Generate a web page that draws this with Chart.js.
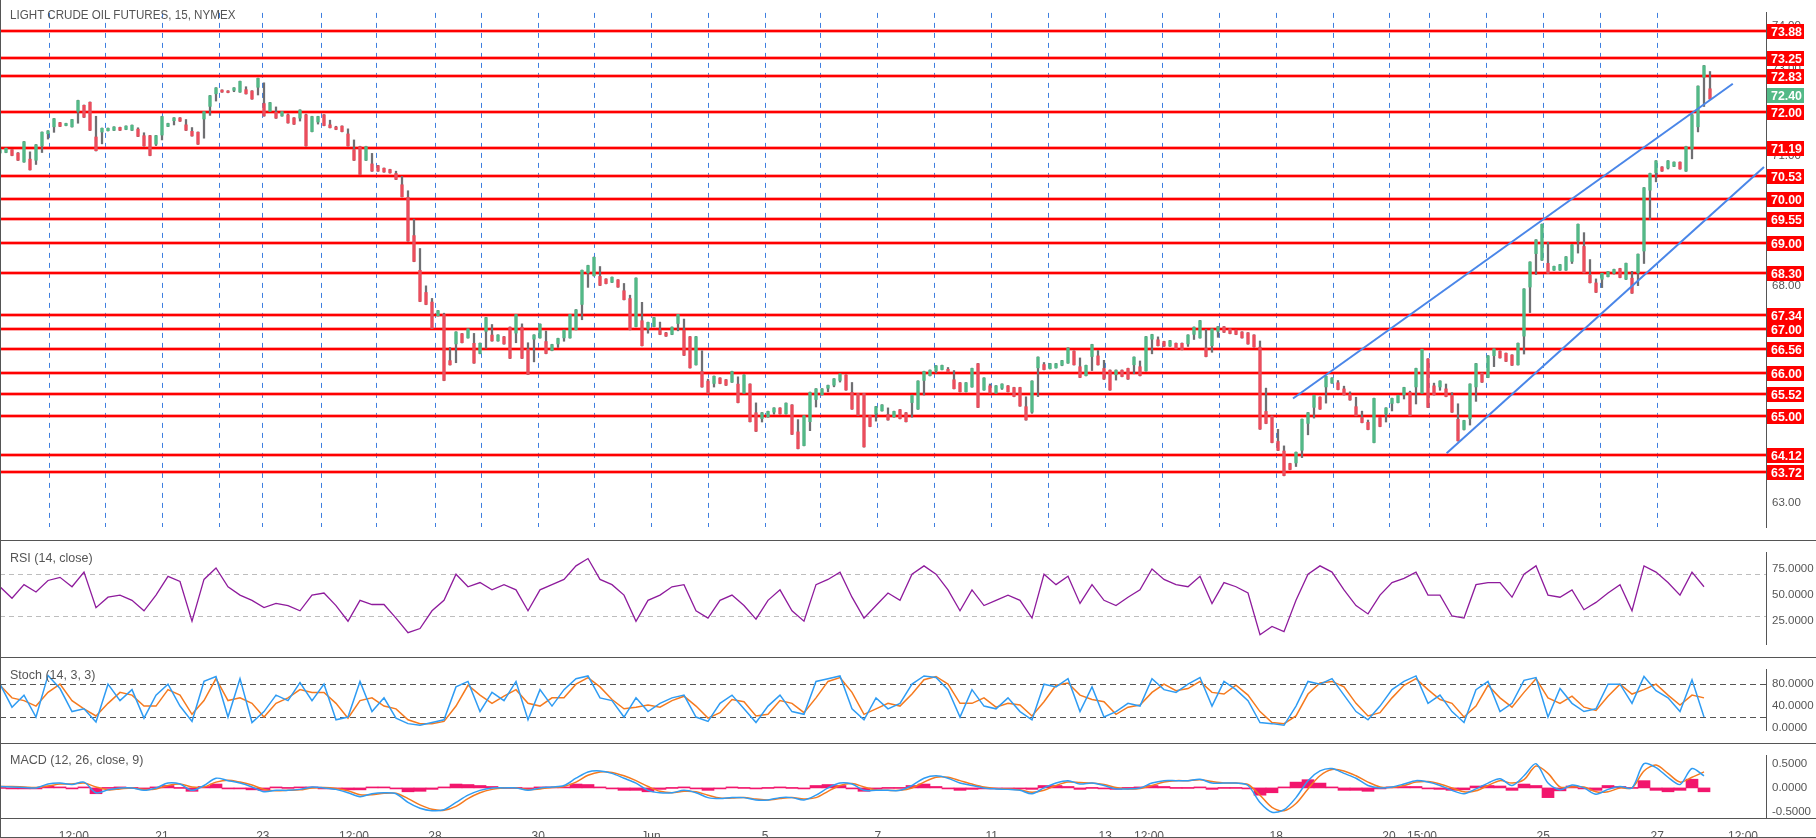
<!DOCTYPE html>
<html lang="en">
<head>
<meta charset="UTF-8">
<title>Light Crude Oil Futures, 15, NYMEX</title>
<script src="https://cdn.jsdelivr.net/npm/chart.js@4.4.1/dist/chart.umd.min.js"></script>
<style>
  body { margin: 0; background: #fff; }
  #wrap { position: relative; width: 1816px; height: 838px; overflow: hidden; font-family: "Liberation Sans", Arial, sans-serif; }
  #wrap canvas { position: absolute; left: 0; }
  .lbl { position: absolute; left: 10px; font-size: 12.5px; line-height: 13px; color: #555; white-space: nowrap; transform-origin: left top; }
  .hline { position: absolute; left: 0; width: 1816px; height: 1px; background: #555; }
  .vline { position: absolute; top: 0; width: 1px; height: 838px; background: #555; }
</style>
</head>
<body>
<div id="wrap">
  <canvas id="price" width="1816" height="540" style="top:0"></canvas>
  <canvas id="rsi" width="1816" height="117" style="top:540px"></canvas>
  <canvas id="stoch" width="1816" height="86" style="top:657px"></canvas>
  <canvas id="macd" width="1816" height="95" style="top:743px"></canvas>
  <div class="hline" style="top:540px"></div>
  <div class="hline" style="top:657px"></div>
  <div class="hline" style="top:743px"></div>
  <div class="hline" style="top:818px"></div>
  <div class="hline" style="top:837px"></div>
  <div class="vline" style="left:0"></div>
  <div class="lbl" style="top:9px; transform:scaleX(0.93)">LIGHT CRUDE OIL FUTURES, 15, NYMEX</div>
  <div class="lbl" style="top:552px">RSI (14, close)</div>
  <div class="lbl" style="top:669px">Stoch (14, 3, 3)</div>
  <div class="lbl" style="top:754px">MACD (12, 26, close, 9)</div>
</div>

<script>
// ---- price data: one slot per 6 px of the original chart (high / low of each slot) ----
const priceHigh = [
  71.15, 71.18, 71.15, 71.07, 71.33, 70.93, 71.26, 71.55, 71.58, 71.86,
  71.77, 71.75, 71.84, 72.28, 72.17, 72.24, 71.44, 71.64, 71.64, 71.67,
  71.66, 71.69, 71.71, 71.62, 71.47, 71.47, 71.47, 71.91, 71.75, 71.88,
  71.88, 71.72, 71.57, 71.55, 72.02, 72.39, 72.57, 72.52, 72.50, 72.57,
  72.72, 72.53, 72.50, 72.79, 72.21, 72.23, 72.01, 72.02, 71.95, 71.88,
  72.06, 71.95, 71.91, 71.91, 71.95, 71.72, 71.67, 71.69, 71.51, 71.15,
  71.22, 71.22, 70.82, 70.78, 70.72, 70.69, 70.60, 70.34, 70.05, 69.17,
  68.37, 67.86, 67.64, 67.44, 67.35, 66.29, 66.95, 66.91, 67.02, 66.69,
  66.69, 67.28, 66.88, 66.88, 66.84, 67.06, 67.35, 67.06, 66.55, 66.88,
  67.13, 66.73, 66.66, 66.80, 66.99, 67.35, 67.46, 68.37, 68.48, 68.67,
  68.23, 68.17, 68.21, 68.15, 67.90, 67.72, 68.19, 67.21, 67.17, 67.28,
  66.99, 66.93, 67.06, 67.35, 66.99, 66.84, 66.84, 66.04, 65.82, 65.93,
  65.89, 65.85, 66.04, 65.75, 65.96, 65.75, 65.09, 65.09, 65.12, 65.20,
  65.20, 65.31, 65.27, 64.65, 65.02, 65.56, 65.64, 65.64, 65.72, 65.87,
  65.98, 65.96, 65.56, 65.53, 65.53, 65.02, 65.23, 65.27, 65.05, 65.12,
  65.16, 65.09, 65.49, 65.82, 66.04, 66.07, 66.17, 66.18, 66.09, 65.85,
  65.78, 65.78, 66.11, 66.22, 65.89, 65.71, 65.71, 65.75, 65.71, 65.67,
  65.67, 65.23, 65.82, 66.37, 66.20, 66.22, 66.22, 66.29, 66.58, 66.51,
  66.15, 66.18, 66.66, 66.40, 66.11, 66.07, 66.07, 66.07, 66.11, 66.37,
  66.15, 66.84, 66.89, 66.77, 66.73, 66.75, 66.69, 66.69, 66.88, 67.06,
  67.21, 66.58, 67.02, 67.07, 67.07, 67.02, 66.99, 66.95, 66.93, 66.88,
  66.60, 65.12, 65.01, 64.43, 64.21, 63.92, 64.18, 64.94, 65.09, 65.49,
  65.45, 65.93, 65.89, 65.78, 65.64, 65.51, 65.23, 64.98, 64.87, 65.42,
  64.98, 65.20, 65.42, 65.49, 65.67, 65.56, 66.11, 66.55, 66.33, 65.71,
  65.82, 65.64, 65.49, 64.94, 64.91, 65.75, 66.22, 66.00, 66.40, 66.56,
  66.51, 66.46, 66.42, 66.69, 67.94, 68.56, 69.07, 69.43, 68.53, 68.46,
  68.50, 68.68, 68.96, 69.43, 68.92, 68.26, 68.08, 68.30, 68.34, 68.39,
  68.41, 68.53, 68.19, 68.74, 70.27, 70.60, 70.89, 70.75, 70.89, 70.86,
  70.86, 71.22, 71.95, 72.61, 73.08, 72.55
];
const priceLow = [
  71.06, 71.07, 71.00, 70.89, 70.85, 70.67, 70.89, 71.22, 71.50, 71.66,
  71.67, 71.69, 71.66, 72.02, 71.88, 71.58, 71.11, 71.54, 71.57, 71.58,
  71.58, 71.60, 71.58, 71.44, 71.22, 71.00, 71.26, 71.47, 71.67, 71.80,
  71.79, 71.58, 71.45, 71.26, 71.84, 72.13, 72.42, 72.46, 72.45, 72.50,
  72.46, 72.42, 72.30, 72.57, 71.91, 72.02, 71.86, 71.91, 71.75, 71.72,
  71.86, 71.22, 71.55, 71.77, 71.69, 71.64, 71.60, 71.55, 71.22, 70.89,
  70.56, 70.89, 70.64, 70.64, 70.62, 70.60, 70.45, 70.05, 69.03, 68.56,
  67.64, 67.57, 67.02, 67.31, 65.82, 66.18, 66.66, 66.69, 66.80, 66.22,
  66.44, 66.95, 66.73, 66.73, 66.66, 66.33, 66.91, 66.33, 65.96, 66.77,
  66.80, 66.44, 66.51, 66.66, 66.80, 66.80, 66.99, 67.57, 68.30, 68.23,
  68.01, 68.05, 68.08, 67.97, 67.68, 66.99, 67.06, 66.62, 67.02, 67.06,
  66.88, 66.84, 66.88, 67.13, 66.40, 66.11, 66.18, 65.67, 65.53, 65.75,
  65.75, 65.71, 65.78, 65.31, 65.53, 64.87, 64.65, 64.94, 64.98, 65.09,
  65.05, 65.05, 64.58, 64.25, 64.32, 64.87, 65.38, 65.49, 65.64, 65.71,
  65.82, 65.60, 65.16, 65.02, 64.29, 64.76, 65.05, 65.12, 64.91, 64.98,
  64.94, 64.87, 65.31, 65.16, 65.82, 65.93, 66.04, 66.07, 66.02, 65.63,
  65.56, 65.56, 65.67, 65.20, 65.60, 65.53, 65.53, 65.64, 65.56, 65.45,
  65.23, 64.91, 65.09, 66.11, 66.07, 66.09, 66.11, 66.17, 66.22, 66.18,
  65.89, 65.93, 66.37, 66.18, 65.85, 65.60, 65.95, 65.91, 65.85, 66.18,
  65.93, 66.04, 66.77, 66.62, 66.61, 66.61, 66.55, 66.53, 66.66, 66.88,
  66.80, 66.37, 66.62, 66.95, 66.93, 66.90, 66.88, 66.80, 66.66, 66.59,
  64.70, 64.83, 64.39, 64.21, 63.63, 63.77, 63.92, 64.21, 64.83, 65.20,
  65.16, 65.67, 65.76, 65.61, 65.49, 65.37, 65.01, 64.85, 64.69, 64.39,
  64.76, 65.05, 65.29, 65.31, 65.49, 65.01, 65.67, 65.53, 65.20, 65.49,
  65.67, 65.45, 65.09, 64.43, 64.69, 64.94, 65.67, 65.78, 65.89, 66.39,
  66.34, 66.26, 66.17, 66.18, 66.84, 67.97, 68.74, 68.59, 68.29, 68.36,
  68.36, 68.36, 68.56, 69.03, 68.30, 68.07, 67.85, 68.15, 68.21, 68.29,
  68.19, 68.15, 67.83, 68.30, 68.80, 70.20, 70.60, 70.64, 70.71, 70.75,
  70.69, 70.64, 71.15, 71.66, 72.80, 72.30
];
const lastPrice = 72.40;

// ---- indicator data: one value every 2 slots (12 px) ----
const rsi = [
  58, 47, 60, 53, 64, 67, 58, 72, 38, 48, 50, 45, 35, 50, 68, 63, 25, 65, 76, 58,
  50, 45, 38, 42, 40, 35, 50, 52, 40, 25, 45, 41, 41, 28, 14, 18, 35, 45, 70, 58,
  62, 55, 60, 55, 35, 55, 60, 65, 78, 85, 65, 60, 50, 25, 45, 50, 58, 60, 35, 28,
  45, 50, 40, 27, 45, 55, 35, 25, 60, 65, 72, 48, 28, 40, 52, 45, 70, 78, 70, 55,
  35, 55, 40, 45, 50, 45, 28, 70, 60, 68, 42, 60, 45, 40, 48, 55, 75, 65, 60, 58,
  68, 42, 62, 58, 52, 12, 20, 15, 45, 70, 78, 72, 55, 40, 32, 50, 62, 66, 72, 50,
  50, 30, 28, 60, 62, 62, 48, 70, 78, 50, 48, 55, 36, 43, 52, 60, 35, 78, 72, 62,
  50, 72, 58
];
const stochK = [
  80, 38, 60, 20, 96, 72, 30, 35, 11, 80, 50, 70, 18, 60, 80, 40, 12, 85, 94, 20,
  90, 10, 30, 60, 50, 83, 50, 80, 15, 20, 85, 30, 55, 18,
  8, 5, 10, 15, 75, 85, 30, 65, 50, 85, 15, 70, 40, 70, 90, 95, 55, 50, 20, 55,
  30, 45, 55, 60, 20, 12, 45, 60, 35, 10, 40, 60, 30, 25, 85, 90, 95, 35, 15, 55,
  35, 45, 80, 95, 92, 70, 20, 70, 40, 35, 55, 30, 15, 80, 75, 90, 30, 75, 20, 30,
  45, 40, 90, 70, 65, 80, 92, 40, 85, 70, 50, 10, 8, 5, 40, 85, 80, 90, 60, 30,
  15, 40, 70, 85, 95, 45, 60, 30, 10, 70, 85,
  30, 45, 87, 92, 20, 72, 45, 30, 35, 80, 80, 45, 94, 68, 55, 30, 88, 20
];
const stochD = [
  78, 55, 50, 40, 65, 80, 50, 35, 22, 45, 65, 60, 40, 40, 70, 60, 25, 50, 90, 50,
  55, 45, 20, 45, 55, 70, 65, 65, 45, 18, 50, 55, 40, 35,
  15, 8, 8, 12, 40, 78, 60, 45, 58, 70, 45, 40, 55, 55, 80, 92, 75, 52, 35, 38,
  42, 38, 50, 58, 40, 18, 28, 52, 48, 22, 25, 50, 45, 28, 55, 85, 92, 65, 25, 35,
  45, 40, 62, 88, 94, 80, 45, 45, 55, 38, 45, 42, 22, 48, 78, 82, 60, 52, 48, 25,
  38, 42, 65, 80, 68, 72, 85, 65, 62, 78, 60, 30, 10, 8, 22, 62, 82, 85, 75, 45,
  22, 28, 55, 78, 90, 70, 52, 45, 20, 40, 78,
  55, 38, 65, 90, 55, 45, 58, 38, 32, 58, 80, 62, 70, 80, 60, 42, 60, 55
];
const macdLine = [
  0.03, 0.02, 0.01, 0.00, 0.08, 0.10, 0.07, 0.12, -0.10, -0.04, 0.00, 0.00, -0.05, 0.00, 0.10,
  0.08, -0.05, 0.05, 0.20, 0.15, 0.10, 0.02, -0.08, -0.05, -0.05, -0.03, 0.02, 0.00, -0.03, -0.10,
  -0.18, -0.12, -0.10, -0.12, -0.30, -0.42, -0.47, -0.45, -0.30, -0.15, -0.05, 0.00, 0.00, 0.00, -0.05,
  0.00, 0.02, 0.05, 0.20, 0.33, 0.35, 0.30, 0.20, 0.10, -0.05, -0.10, -0.10, -0.05, -0.10, -0.20,
  -0.22, -0.20, -0.20, -0.25, -0.25, -0.20, -0.20, -0.25, -0.15, 0.00, 0.10, 0.08, -0.05, -0.05, -0.05,
  -0.05, 0.05, 0.20, 0.25, 0.20, 0.10, 0.05, 0.00, -0.02, -0.03, -0.05, -0.12, 0.00, 0.10, 0.15,
  0.08, 0.10, 0.05, -0.02, -0.02, 0.00, 0.10, 0.15, 0.15, 0.15, 0.18, 0.10, 0.10, 0.10, 0.05,
  -0.30, -0.50, -0.45, -0.20, 0.15, 0.35, 0.40, 0.30, 0.20, 0.05, 0.00, 0.02, 0.08, 0.15, 0.12,
  0.05, -0.05, -0.12, -0.02, 0.10, 0.19, 0.05, 0.25, 0.50, 0.10, -0.04, 0.06, 0.00, -0.13, -0.03,
  0.03, 0.00, 0.50, 0.42, 0.22, 0.07, 0.40, 0.25
];
const macdSignal = [
  0.03, 0.03, 0.02, 0.01, 0.04, 0.08, 0.08, 0.10, 0.02, -0.04, -0.02, 0.00, -0.03, -0.02, 0.05,
  0.08, 0.02, 0.02, 0.12, 0.16, 0.12, 0.06, -0.03, -0.06, -0.05, -0.04, 0.00, 0.01, -0.01, -0.06,
  -0.14, -0.14, -0.11, -0.11, -0.22, -0.35, -0.44, -0.46, -0.38, -0.22, -0.10, -0.03, 0.00, 0.00, -0.03,
  -0.02, 0.01, 0.03, 0.12, 0.26, 0.33, 0.32, 0.25, 0.15, 0.03, -0.07, -0.10, -0.07, -0.08, -0.15,
  -0.21, -0.21, -0.20, -0.23, -0.25, -0.22, -0.20, -0.23, -0.20, -0.07, 0.05, 0.09, 0.02, -0.04, -0.05,
  -0.05, 0.00, 0.12, 0.22, 0.22, 0.15, 0.08, 0.02, -0.01, -0.02, -0.04, -0.09, -0.05, 0.05, 0.12,
  0.11, 0.10, 0.07, 0.01, -0.02, -0.01, 0.05, 0.12, 0.15, 0.15, 0.17, 0.13, 0.10, 0.10, 0.07,
  -0.15, -0.40, -0.47, -0.32, -0.02, 0.25, 0.38, 0.35, 0.25, 0.12, 0.02, 0.01, 0.05, 0.12, 0.13,
  0.08, 0.00, -0.08, -0.06, 0.05, 0.15, 0.10, 0.17, 0.45, 0.30, 0.02, 0.02, 0.02, -0.08, -0.08,
  0.00, 0.00, 0.35, 0.47, 0.30, 0.12, 0.22, 0.33
];

// horizontal support / resistance levels
const levels = [73.88, 73.25, 72.83, 72.00, 71.19, 70.53, 70.00, 69.55, 69.00,
                68.30, 67.34, 67.00, 66.56, 66.00, 65.52, 65.00, 64.12, 63.72];

// channel lines [slot, price]
const channelUpper = [[215.5, 65.41], [288.8, 72.66]];
const channelLower = [[241.1, 64.15], [294.0, 70.74]];

// session breaks and time labels (in slots)
const sessionBreaks = [8.2, 17.5, 27, 36.5, 43.8, 53.5, 62.8, 72.5, 80.2, 89.7, 99, 108.5,
  118, 127.5, 136.8, 146.3, 155.8, 165.3, 174.8, 184.2, 193.7, 203.2, 212.7, 222.2,
  231.5, 238.3, 247.7, 257.2, 266.7, 276.2];
const timeTickPos = [12.3, 27, 43.8, 59, 72.5, 89.7, 108.5, 127.5, 146.3, 165.3, 184.2, 191.5,
  212.7, 231.5, 237, 257.2, 276.2, 290.5];
const timeTickText = ['12:00', '21', '23', '12:00', '28', '30', 'Jun', '5', '7', '11', '13', '12:00',
  '18', '20', '15:00', '25', '27', '12:00'];

const priceTicks = [63, 64, 65, 66, 67, 68, 69, 70, 71, 72, 73, 74];
const rsiTicks = [25, 50, 75];
const rsiBands = [70, 30];
const stochTicks = [0, 40, 80];
const stochBands = [80, 20];
const macdTicks = [-0.5, 0, 0.5];

const xMax = 1766 / 6;
const UP = '#53b987', DOWN = '#eb4d5c', WICK = '#6f6f72';
const FONT = '"Liberation Sans", Arial, sans-serif';

// ---- helpers ----
const mid = priceHigh.map((h, i) => (h + priceLow[i]) / 2);
const barUp = mid.map((m, i) => i === 0 || m >= mid[i - 1]);
// wick spans the slot range and reaches the previous slot's middle, so the series reads as one trace
const wickRange = priceHigh.map((h, i) => {
  const p = i === 0 ? mid[0] : mid[i - 1];
  return [Math.min(priceLow[i], p), Math.max(h, p)];
});
const every2 = arr => arr.map((v, j) => ({ x: j * 2, y: v }));

function xAxis(opts) {
  return Object.assign({ type: 'linear', min: 0, max: xMax, offset: false, display: false }, opts);
}

function yAxis(min, max, ticks, digits) {
  return {
    type: 'linear', position: 'right', min: min, max: max,
    afterBuildTicks: s => { s.ticks = ticks.map(v => ({ value: v })); },
    afterFit: s => { s.width = 50; },
    ticks: { color: '#555', font: { family: FONT, size: 11.5 }, padding: 6,
             includeBounds: false, callback: v => Number(v).toFixed(digits) },
    grid: { display: false, drawTicks: false },
    border: { display: true, color: '#555', width: 1 }
  };
}

function dashedBands(values, color, dash) {
  return {
    id: 'bands',
    beforeDatasetsDraw(chart) {
      const { ctx, chartArea, scales } = chart;
      ctx.save();
      ctx.strokeStyle = color;
      ctx.lineWidth = 1;
      ctx.setLineDash(dash);
      values.forEach(v => {
        const py = Math.round(scales.y.getPixelForValue(v)) + 0.5;
        ctx.beginPath();
        ctx.moveTo(chartArea.left, py);
        ctx.lineTo(chartArea.right, py);
        ctx.stroke();
      });
      ctx.restore();
    }
  };
}

const levelPlugin = {
  id: 'levels',
  beforeDatasetsDraw(chart) {
    const { ctx, chartArea, scales } = chart;
    ctx.save();
    levels.forEach(v => {
      const py = Math.round(scales.y.getPixelForValue(v));
      ctx.fillStyle = 'rgba(255,60,60,0.45)';
      ctx.fillRect(chartArea.left, py - 2, chartArea.right - chartArea.left, 4);
      ctx.fillStyle = '#ff0000';
      ctx.fillRect(chartArea.left, py - 1, chartArea.right - chartArea.left, 2);
    });
    ctx.restore();
  },
  afterDraw(chart) {
    const { ctx, chartArea, scales } = chart;
    ctx.save();
    ctx.font = 'bold 13px "Liberation Sans Narrow", "Liberation Sans", Arial, sans-serif';
    ctx.textBaseline = 'middle';
    const tag = (v, bg) => {
      const py = Math.round(scales.y.getPixelForValue(v));
      ctx.fillStyle = bg;
      ctx.fillRect(chartArea.right + 1, py - 7, 37, 15);
      ctx.fillStyle = '#fff';
      ctx.fillText(v.toFixed(2), chartArea.right + 5, py + 1, 31);
    };
    levels.forEach(v => tag(v, '#ff0000'));
    tag(lastPrice, UP);
    ctx.restore();
  }
};

const baseOpts = {
  responsive: false, animation: false, events: [],
  layout: { padding: 0 },
  plugins: { legend: { display: false }, tooltip: { enabled: false } }
};

// ---- price panel ----
new Chart(document.getElementById('price'), {
  type: 'bar',
  data: {
    datasets: [
      {
        label: 'wick', order: 3,
        data: wickRange.map((r, i) => ({ x: i, y: r })),
        backgroundColor: WICK, barThickness: 1.6, grouped: false, minBarLength: 2
      },
      {
        label: 'body', order: 2,
        data: priceHigh.map((h, i) => ({ x: i, y: [priceLow[i], h] })),
        backgroundColor: ctx => barUp[ctx.dataIndex] ? UP : DOWN,
        barPercentage: 0.55, categoryPercentage: 1, grouped: false, minBarLength: 2
      },
      {
        type: 'line', label: 'upper', order: 1,
        data: channelUpper.map(p => ({ x: p[0], y: p[1] })),
        borderColor: '#4a86e8', borderWidth: 2, pointRadius: 0
      },
      {
        type: 'line', label: 'lower', order: 1,
        data: channelLower.map(p => ({ x: p[0], y: p[1] })),
        borderColor: '#4a86e8', borderWidth: 2, pointRadius: 0
      }
    ]
  },
  options: Object.assign({}, baseOpts, {
    scales: {
      x: xAxis({
        display: true,
        afterBuildTicks: s => { s.ticks = sessionBreaks.map(v => ({ value: v })); },
        afterFit: s => { s.height = 0; },
        ticks: { display: false },
        grid: { display: true, offset: false, color: '#3f7fe0', lineWidth: 1, drawTicks: false },
        border: { display: false, dash: [5, 5] }
      }),
      y: yAxis(62.45, 74.29, priceTicks, 2)
    }
  }),
  plugins: [levelPlugin]
});

// ---- RSI panel ----
new Chart(document.getElementById('rsi'), {
  type: 'line',
  data: { datasets: [{ data: every2(rsi), borderColor: '#8e1b9c', borderWidth: 1.3, pointRadius: 0, tension: 0 }] },
  options: Object.assign({}, baseOpts, {
    scales: { x: xAxis(), y: yAxis(3.1, 90.4, rsiTicks, 4) }
  }),
  plugins: [dashedBands(rsiBands, '#bdbdbd', [5, 4])]
});

// ---- Stochastic panel ----
new Chart(document.getElementById('stoch'), {
  type: 'line',
  data: { datasets: [
    { data: every2(stochK), borderColor: '#2f9cf3', borderWidth: 1.5, pointRadius: 0, tension: 0 },
    { data: every2(stochD), borderColor: '#f57a1f', borderWidth: 1.5, pointRadius: 0, tension: 0 }
  ] },
  options: Object.assign({}, baseOpts, {
    scales: { x: xAxis(), y: yAxis(-3.8, 106, stochTicks, 4) }
  }),
  plugins: [dashedBands(stochBands, '#555', [6, 4])]
});

// ---- MACD panel ----
new Chart(document.getElementById('macd'), {
  type: 'line',
  data: { datasets: [
    { order: 1, data: every2(macdLine), borderColor: '#2f9cf3', borderWidth: 1.5, pointRadius: 0, tension: 0.3 },
    { order: 1, data: every2(macdSignal), borderColor: '#f57a1f', borderWidth: 1.5, pointRadius: 0, tension: 0.3 },
    { type: 'bar', order: 2, data: macdLine.map((v, j) => ({ x: j * 2, y: v - macdSignal[j] })),
      backgroundColor: '#f2166d', barPercentage: 1, categoryPercentage: 1, grouped: false, minBarLength: 1 }
  ] },
  options: Object.assign({}, baseOpts, {
    scales: {
      x: xAxis({
        display: true,
        afterBuildTicks: s => { s.ticks = timeTickPos.map(v => ({ value: v })); },
        afterFit: s => { s.height = 20; },
        ticks: { color: '#555', font: { family: FONT, size: 12 }, padding: 3,
                 autoSkip: false, maxRotation: 0,
                 callback: (v, i) => timeTickText[i] },
        grid: { display: false },
        border: { display: false }
      }),
      y: yAxis(-0.62, 0.66, macdTicks, 4)
    }
  })
});
</script>
</body>
</html>
